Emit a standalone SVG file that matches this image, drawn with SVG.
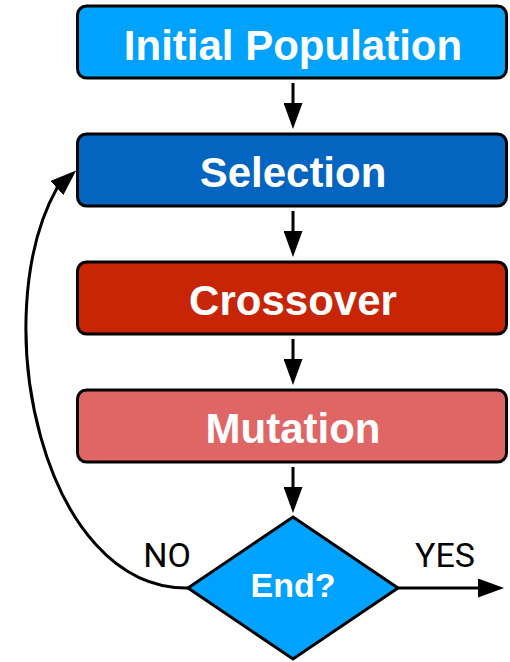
<svg xmlns="http://www.w3.org/2000/svg" width="510" height="662" viewBox="0 0 510 662">
<style>
.box{stroke:#000;stroke-width:3}
.lbl{font-family:"Liberation Sans",Arial,sans-serif;font-weight:bold;font-size:42px;fill:#fff;text-anchor:middle}
.lbl2{font-family:Roboto,"Liberation Sans",sans-serif;font-size:34px;fill:#000;text-anchor:middle}
.conn{fill:none;stroke:#000;stroke-width:3}
</style>
<defs>
<marker id="ah" markerUnits="userSpaceOnUse" markerWidth="26" markerHeight="19" refX="15" refY="9.5" orient="auto" viewBox="0 0 26 19">
<path d="M0,0 L26,9.5 L0,19 z" fill="#000"/>
</marker>
</defs>
<g id="initial">
<rect class="box" x="77.5" y="6" width="429" height="72" rx="9" fill="#00A2FF"/>
<text class="lbl" x="293" y="60">Initial Population</text>
</g>
<g id="selection">
<rect class="box" x="77.5" y="134" width="429" height="72" rx="9" fill="#0365C0"/>
<text class="lbl" x="293" y="187">Selection</text>
</g>
<g id="crossover">
<rect class="box" x="77.5" y="262" width="429" height="72" rx="9" fill="#C82506"/>
<text class="lbl" x="293" y="315">Crossover</text>
</g>
<g id="mutation">
<rect class="box" x="77.5" y="390" width="429" height="72" rx="9" fill="#E06666"/>
<text class="lbl" x="293" y="443">Mutation</text>
</g>
<g id="end">
<polygon class="box" points="293,517 398,588 293,659 188,588" fill="#00A2FF" stroke-linejoin="miter"/>
<text class="lbl" x="293" y="597" style="font-size:34px">End?</text>
</g>
<g id="connectors">
<line class="conn" x1="293" y1="83" x2="293" y2="118" marker-end="url(#ah)"/>
<line class="conn" x1="293" y1="211" x2="293" y2="246" marker-end="url(#ah)"/>
<line class="conn" x1="293" y1="339" x2="293" y2="374" marker-end="url(#ah)"/>
<line class="conn" x1="293" y1="467" x2="293" y2="502" marker-end="url(#ah)"/>
<line class="conn" x1="398" y1="588" x2="493" y2="588" marker-end="url(#ah)"/>
<path class="conn" d="M188,588 C42,590 -15,317 57,188 L68,178" marker-end="url(#ah)"/>
<text class="lbl2" x="167" y="567">NO</text>
<text class="lbl2" x="445" y="567">YES</text>
</g>
</svg>
